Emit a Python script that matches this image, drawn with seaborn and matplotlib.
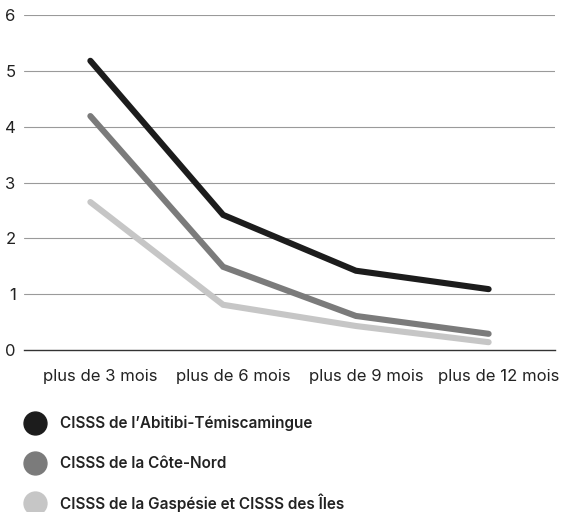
import pandas as pd
import seaborn as sns
import matplotlib.pyplot as plt
import matplotlib.transforms as mtransforms
from matplotlib.lines import Line2D

# === DONNÉES ===
periodes = ["plus de 3 mois", "plus de 6 mois", "plus de 9 mois", "plus de 12 mois"]
abitibi = [5.18, 2.42, 1.42, 1.09]
cote_nord = [4.19, 1.49, 0.61, 0.29]
gaspesie = [2.65, 0.81, 0.43, 0.14]
regions = [
    "CISSS de l’Abitibi-Témiscamingue",
    "CISSS de la Côte-Nord",
    "CISSS de la Gaspésie et CISSS des Îles",
]
couleurs = ["#1c1c1c", "#7b7b7b", "#c6c6c6"]

df = pd.DataFrame({
    "x": list(range(len(periodes))) * 3,
    "valeur": abitibi + cote_nord + gaspesie,
    "region": [r for r in regions for _ in periodes],
})

# === CONFIGURATION ===
sns.set_theme(style="white")
plt.rcParams["font.family"] = ["Inter", "DejaVu Sans"]

fig = plt.figure(figsize=(5.63, 5.12), dpi=100)
ax = fig.add_axes([0.0426, 0.3164, 0.9432, 0.6543])

sns.lineplot(data=df, x="x", y="valeur", hue="region", palette=couleurs,
             linewidth=4.4, ax=ax, legend=False, solid_capstyle="round",
             solid_joinstyle="miter")

ax.set_xlim(-0.5, 3.5)
ax.set_ylim(0, 6)
ax.set_yticks(range(0, 7))
ax.set_xticks(range(len(periodes)))
ax.set_xticklabels(periodes, fontsize=12, color="#222222")
ax.set_xticks([3.5], minor=True)
ax.tick_params(axis="x", which="both", direction="inout", length=8, width=0.9,
               color="#333333", pad=10)
ax.tick_params(axis="y", length=0, pad=6, labelsize=12, labelcolor="#222222")
# étiquettes légèrement décalées vers la droite comme dans l'original
decal = mtransforms.ScaledTranslation(10 / 100, 0, fig.dpi_scale_trans)
for lbl in ax.get_xticklabels():
    lbl.set_transform(lbl.get_transform() + decal)
ax.set_xlabel("")
ax.set_ylabel("")
for y in range(1, 7):
    ax.axhline(y, color="#9a9a9a", linewidth=0.8, zorder=0)
for s in ["top", "right", "left"]:
    ax.spines[s].set_visible(False)
ax.spines["bottom"].set_color("#333333")
ax.spines["bottom"].set_linewidth(1.0)

# Légende manuelle
ypos = [423, 463, 503]
for nom, c, y in zip(regions, couleurs, ypos):
    yf = 1 - y / 512
    fig.add_artist(Line2D([35 / 563], [yf], marker="o", markersize=16.5,
                          color=c, linestyle="", transform=fig.transFigure))
    fig.text(60 / 563, yf, nom, fontsize=11, fontweight="semibold",
             color="#222222", va="center", ha="left")

plt.savefig("out.png", dpi=100)
